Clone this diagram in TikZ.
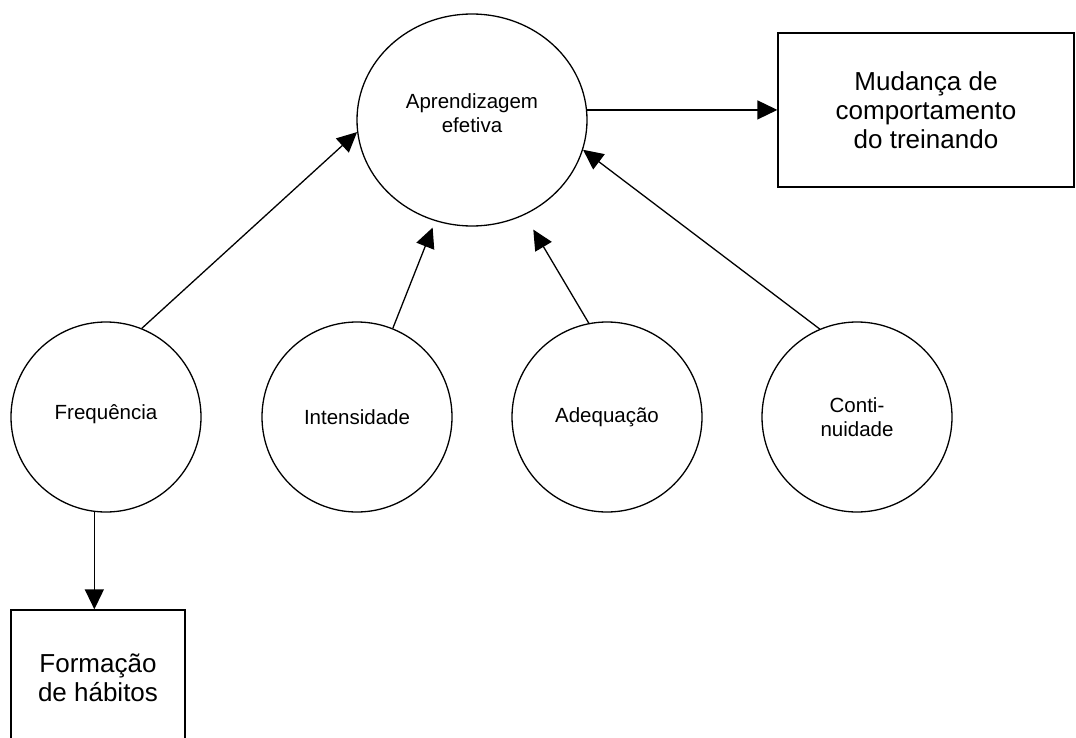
\documentclass[tikz,border=0pt]{standalone}
\usepackage{fontspec}
\setmainfont{Liberation Sans}
\usetikzlibrary{shapes,arrows.meta,calc}
\tikzset{bubble/.style={circle,draw=black,line width=1.3pt,inner sep=0pt,
minimum size=190pt,font=\fontsize{20.5}{24.5}\selectfont,align=center},
bigbubble/.style={bubble,ellipse,minimum width=230pt,minimum height=212pt},
outbox/.style={rectangle,draw=black,line width=1.3pt,inner sep=0pt,
font=\fontsize{26}{29}\selectfont,align=center},
link/.style={line width=1.3pt,-{Triangle[length=20pt,width=19pt]}}}

\begin{document}
\begin{tikzpicture}[x=1pt,y=-1pt]
  \useasboundingbox (0,0) rectangle (1076,738);
  \node (apr) [bigbubble,text depth=14pt] at (472,120) {Aprendizagem\\efetiva};
  \node (mud) [outbox,minimum width=296pt,minimum height=154pt] at (926,110)
    {Mudança de\\comportamento\\do treinando};
  \node (freq) [bubble,text depth=9pt] at (106,417) {Frequência};
  \node (int) [bubble] at (357,417) {Intensidade};
  \node (adeq) [bubble] at (607,417) {Adequação};
  \node (cont) [bubble] at (857,417) {Conti-\\nuidade};
  \node (form) [outbox,minimum width=174pt,minimum height=136pt] at (98,678)
    {Formação\\de hábitos};
  \draw [link] (freq.68) -- (apr.186);
  \draw [link,shorten >=7pt] (int.68) -- (apr.250);
  \draw [link,shorten >=17pt] (adeq.101) -- (apr.299);
  \draw [link] (cont.113) -- (apr.345);
  \draw [link] (apr.5) -- (apr.5 -| mud.west);
  \draw [link] (freq.263) -- (freq.263 |- form.north);
\end{tikzpicture}
\end{document}
